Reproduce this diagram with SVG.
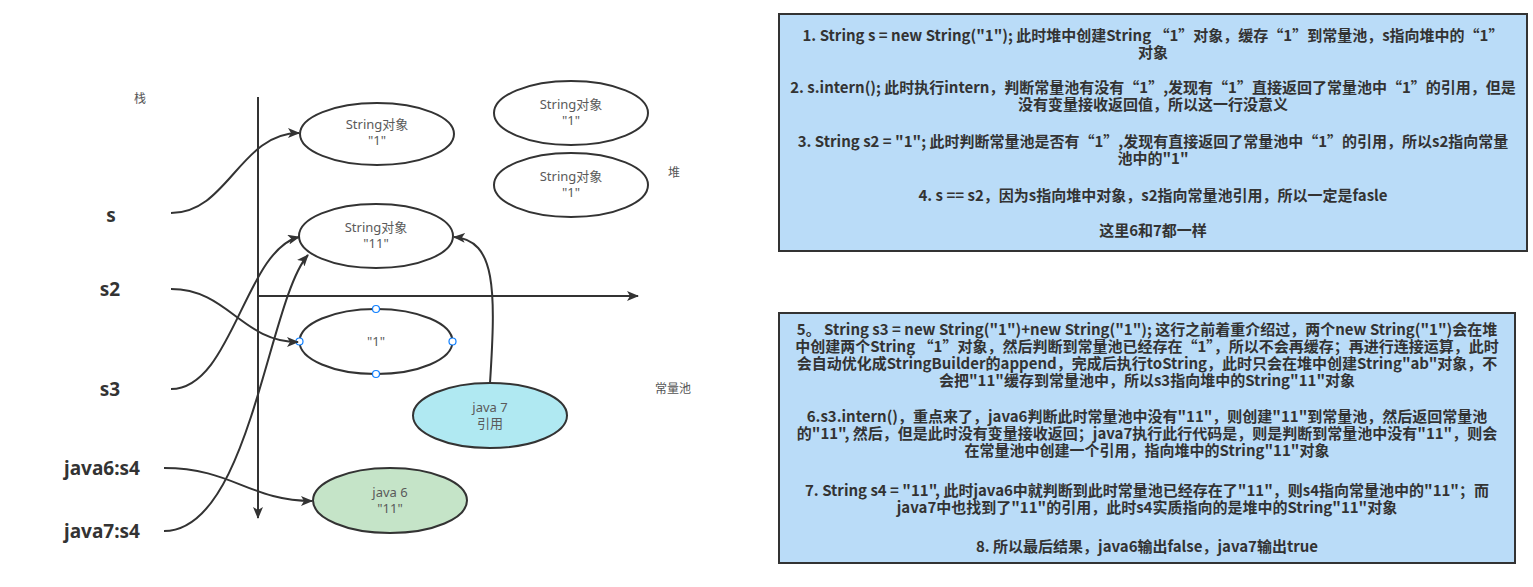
<svg xmlns="http://www.w3.org/2000/svg" width="1533" height="587" viewBox="0 0 1533 587">
<style>
.bg{fill:#ffffff}
.ell{fill:#ffffff;stroke:#333333;stroke-width:2}
.et{font-family:"Noto Sans","Noto Sans CJK SC",sans-serif;font-size:13px;fill:#5a5a5a;text-anchor:middle}
.lbl{font-family:"Noto Sans","Noto Sans CJK SC",sans-serif;font-size:19px;font-weight:bold;fill:#333333;text-anchor:middle}
.sm{font-family:"Noto Sans CJK SC",sans-serif;font-size:12px;fill:#555555;text-anchor:middle}
.box{fill:#badcf8;stroke:#333333;stroke-width:2}
.bt{font-family:"Noto Sans CJK SC",sans-serif;font-size:15px;font-weight:bold;fill:#333333;text-anchor:middle}
.con{fill:none;stroke:#333333;stroke-width:2}
.hd{fill:#ffffff;stroke:#0f7fff;stroke-width:1.2}
</style>
<defs>
<marker id="ah" markerUnits="userSpaceOnUse" markerWidth="12" markerHeight="10" refX="11" refY="5" orient="auto">
<path d="M0,0 L12,5 L0,10 L3,5 Z" fill="#333333"/>
</marker>
</defs>
<rect class="bg" x="0" y="0" width="1533" height="587"/>

<g id="axes">
<path class="con" d="M258,97 L258,518" marker-end="url(#ah)"/>
<path class="con" d="M258,296 L638,296" marker-end="url(#ah)"/>
</g>

<g id="area-labels">
<text class="sm" x="140" y="103">栈</text>
<text class="sm" x="674" y="177">堆</text>
<text class="sm" x="673" y="393">常量池</text>
</g>

<g id="var-s"><text class="lbl" x="111" y="222">s</text></g>
<g id="var-s2"><text class="lbl" x="110" y="296">s2</text></g>
<g id="var-s3"><text class="lbl" x="110" y="396">s3</text></g>
<g id="var-java6s4"><text class="lbl" x="102" y="475">java6:s4</text></g>
<g id="var-java7s4"><text class="lbl" x="102" y="538">java7:s4</text></g>

<g id="heap-s">
<ellipse class="ell" cx="377" cy="134" rx="77" ry="31"/>
<text class="et" x="377" y="129">String对象</text>
<text class="et" x="377" y="145">"1"</text>
</g>
<g id="heap-b">
<ellipse class="ell" cx="571" cy="113" rx="77" ry="32"/>
<text class="et" x="571" y="109">String对象</text>
<text class="et" x="571" y="125">"1"</text>
</g>
<g id="heap-c">
<ellipse class="ell" cx="571" cy="185" rx="77" ry="32"/>
<text class="et" x="571" y="181">String对象</text>
<text class="et" x="571" y="197">"1"</text>
</g>
<g id="heap-11">
<ellipse class="ell" cx="376" cy="236" rx="77" ry="32"/>
<text class="et" x="376" y="232">String对象</text>
<text class="et" x="376" y="248">"11"</text>
</g>
<g id="pool-1">
<ellipse class="ell" cx="376" cy="341.5" rx="76.5" ry="32.5"/>
<text class="et" x="376" y="346">"1"</text>
<circle class="hd" cx="376" cy="309" r="3.5"/>
<circle class="hd" cx="376" cy="374" r="3.5"/>
<circle class="hd" cx="299.5" cy="341.5" r="3.5"/>
<circle class="hd" cx="452.5" cy="341.5" r="3.5"/>
</g>
<g id="pool-java7">
<ellipse class="ell" cx="490" cy="415.5" rx="77" ry="32.5" style="fill:#b0e9f2"/>
<text class="et" x="490" y="412">java 7</text>
<text class="et" x="490" y="428">引用</text>
</g>
<g id="pool-java6">
<ellipse class="ell" cx="390" cy="500.5" rx="77" ry="32.5" style="fill:#c5e4c8"/>
<text class="et" x="390" y="497">java 6</text>
<text class="et" x="390" y="513">"11"</text>
</g>

<g id="connectors">
<path class="con" d="M171,213 C228,213 240,133 299,133" marker-end="url(#ah)"/>
<path class="con" d="M171,289 C228,289 242,342 298,342" marker-end="url(#ah)"/>
<path class="con" d="M171,389 C232,389 245,250 299,237" marker-end="url(#ah)"/>
<path class="con" d="M164,468 C232,468 250,501 312,501" marker-end="url(#ah)"/>
<path class="con" d="M164,531 C250,531 268,300 308,255" marker-end="url(#ah)"/>
<path class="con" d="M490,383 C496,290 496,240 454,237" marker-end="url(#ah)"/>
</g>

<g id="note-1">
<rect class="box" x="779" y="14" width="748" height="237"/>
<text class="bt" x="1153" y="41">1. String s = new String("1"); 此时堆中创建String “1”对象，缓存“1”到常量池，s指向堆中的“1”</text>
<text class="bt" x="1153" y="58">对象</text>
<text class="bt" x="1153" y="93">2. s.intern(); 此时执行intern，判断常量池有没有“1”,发现有“1”直接返回了常量池中“1”的引用，但是</text>
<text class="bt" x="1153" y="110">没有变量接收返回值，所以这一行没意义</text>
<text class="bt" x="1153" y="147">3. String s2 = "1"; 此时判断常量池是否有“1”,发现有直接返回了常量池中“1”的引用，所以s2指向常量</text>
<text class="bt" x="1153" y="164">池中的"1"</text>
<text class="bt" x="1153" y="201">4. s == s2，因为s指向堆中对象，s2指向常量池引用，所以一定是fasle</text>
<text class="bt" x="1153" y="236">这里6和7都一样</text>
</g>

<g id="note-2">
<rect class="box" x="779" y="313" width="736" height="250"/>
<text class="bt" x="1147" y="335">5。 String s3 = new String("1")+new String("1"); 这行之前着重介绍过，两个new String("1")会在堆</text>
<text class="bt" x="1147" y="352">中创建两个String “1”对象，然后判断到常量池已经存在“1”，所以不会再缓存；再进行连接运算，此时</text>
<text class="bt" x="1147" y="369">会自动优化成StringBuilder的append，完成后执行toString，此时只会在堆中创建String"ab"对象，不</text>
<text class="bt" x="1147" y="386">会把"11"缓存到常量池中，所以s3指向堆中的String"11"对象</text>
<text class="bt" x="1147" y="422">6.s3.intern()，重点来了，java6判断此时常量池中没有"11"，则创建"11"到常量池，然后返回常量池</text>
<text class="bt" x="1147" y="439">的"11", 然后，但是此时没有变量接收返回；java7执行此行代码是，则是判断到常量池中没有"11"，则会</text>
<text class="bt" x="1147" y="456">在常量池中创建一个引用，指向堆中的String"11"对象</text>
<text class="bt" x="1147" y="496">7. String s4 = "11", 此时java6中就判断到此时常量池已经存在了"11"，则s4指向常量池中的"11"；而</text>
<text class="bt" x="1147" y="513">java7中也找到了"11"的引用，此时s4实质指向的是堆中的String"11"对象</text>
<text class="bt" x="1147" y="552">8. 所以最后结果，java6输出false，java7输出true</text>
</g>
</svg>
